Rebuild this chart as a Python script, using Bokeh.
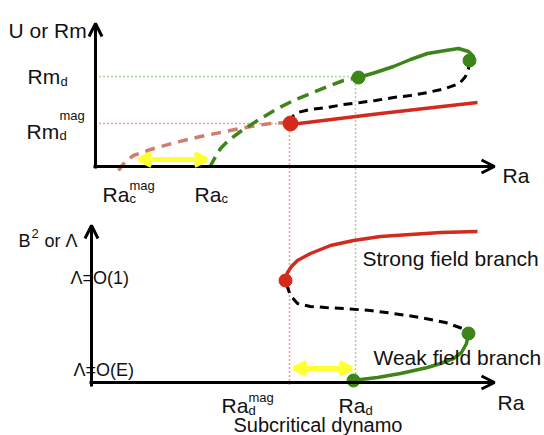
from bokeh.plotting import figure
from bokeh.models import Range1d, Arrow, OpenHead, ColumnDataSource
from bokeh.core.properties import value
from bokeh.embed import file_html
from bokeh.resources import INLINE

# ---- schematic data (screen-like units: x to the right, y downward) ----
# top panel: U or Rm vs Ra
top_mag_x = [118, 124, 133, 150, 175, 200, 225, 250, 270, 288]
top_mag_y = [170, 162, 155, 149, 142, 136, 131, 126, 123, 122]
top_hyd_dash_x = [209, 214, 220, 228, 240, 257, 277, 293, 310, 327, 343, 358]
top_hyd_dash_y = [167, 158, 148, 140, 131, 120, 108, 100, 93, 86, 80, 77]
top_hyd_solid_x = [358, 375, 393, 410, 427, 445, 458, 468, 473, 469]
top_hyd_solid_y = [77, 72, 66, 59, 53, 50, 48, 51, 56, 60]
top_unst_x = [469, 468, 465, 459, 445, 427, 410, 393, 375, 360, 343, 327, 310, 297, 292]
top_unst_y = [60, 68, 76, 83, 88, 92, 95, 97, 100, 102, 104, 107, 109, 112, 116]
top_strong_x = [290, 380, 477]
top_strong_y = [124, 113, 102]
top_dots_x = [290, 358, 469]
top_dots_y = [123, 77, 60]
top_dots_c = ["#d42a1e", "#3f8418", "#3f8418"]

# bottom panel: B^2 or Lambda vs Ra
bot_strong_x = [285, 287, 291, 297, 310, 330, 353, 380, 410, 440, 477]
bot_strong_y = [280, 272, 266, 260, 253, 245, 240, 236, 234, 232, 231]
bot_unst_x = [286, 290, 297, 310, 325, 343, 370, 393, 420, 445, 462]
bot_unst_y = [284, 295, 303, 306, 307, 308, 310, 313, 317, 322, 328]
bot_weak_x = [468, 466, 461, 453, 440, 427, 400, 377, 360, 353]
bot_weak_y = [333, 343, 352, 358, 363, 367, 373, 377, 379, 380]
bot_dots_x = [285, 468, 353]
bot_dots_y = [280, 333, 380]
bot_dots_c = ["#d42a1e", "#3f8418", "#3f8418"]

# thresholds
Ra_d_mag = 289
Ra_d = 355
Rm_d = 76
Rm_d_mag = 123
Ra_c_mag = 137
Ra_c = 208

RED = "#d42a1e"
GREEN = "#3f8418"
SALMON = "#d27c6c"
YELLOW = "#ffff33"
FONT = "Liberation Sans"

p = figure(width=544, height=435, output_backend="svg", toolbar_location=None,
           x_range=Range1d(0, 544), y_range=Range1d(435, 0), min_border=0)
p.axis.visible = False
p.grid.visible = False
p.outline_line_color = None
p.background_fill_color = "white"

# ---- axes ----
def axis_arrow(x0, y0, x1, y1):
    p.add_layout(Arrow(end=OpenHead(size=13, line_width=3, line_color="black"),
                       x_start=x0, y_start=y0, x_end=x1, y_end=y1,
                       line_width=3, line_color="black"))

axis_arrow(95, 168, 95, 23)
axis_arrow(93, 166, 494, 166)
axis_arrow(91, 386, 91, 225)
axis_arrow(89, 382, 494, 382)

# ---- dotted guides ----
p.line([95, Ra_d], [Rm_d, Rm_d], line_color="#5fa83a", line_width=1.5, line_dash="1 3")
p.line([95, Ra_d_mag], [Rm_d_mag, Rm_d_mag], line_color="#e8372e", line_width=1.5, line_dash="1 3")
p.line([Ra_d_mag, Ra_d_mag], [Rm_d_mag, 386], line_color="#e8372e", line_width=1.5, line_dash="1 3")
p.line([Ra_d, Ra_d], [Rm_d, 386], line_color="#5fa83a", line_width=1.5, line_dash="1 3")

# ---- top curves ----
p.line(top_mag_x, top_mag_y, line_color=SALMON, line_width=3.5, line_dash="10 7")
p.line(top_hyd_dash_x, top_hyd_dash_y, line_color=GREEN, line_width=3.5, line_dash="12 7")
p.line(top_unst_x, top_unst_y, line_color="black", line_width=3, line_dash="9 6")
p.line(top_hyd_solid_x, top_hyd_solid_y, line_color=GREEN, line_width=3.5)
p.line(top_strong_x, top_strong_y, line_color=RED, line_width=3.5)
p.scatter(top_dots_x, top_dots_y, size=[15, 13, 13], color=top_dots_c)

# ---- bottom curves ----
p.line(bot_unst_x, bot_unst_y, line_color="black", line_width=3, line_dash="9 6")
p.line(bot_strong_x, bot_strong_y, line_color=RED, line_width=3.5)
p.line(bot_weak_x, bot_weak_y, line_color=GREEN, line_width=3.5)
p.scatter(bot_dots_x, bot_dots_y, size=13, color=bot_dots_c)

# ---- yellow double arrows ----
def yellow_arrow(x0, x1, y):
    p.add_layout(Arrow(start=OpenHead(size=12, line_width=5, line_color=YELLOW),
                       end=OpenHead(size=12, line_width=5, line_color=YELLOW),
                       x_start=x0, y_start=y, x_end=x1, y_end=y,
                       line_width=5, line_color=YELLOW))

yellow_arrow(Ra_c_mag + 2, Ra_c - 2, 159)
yellow_arrow(Ra_d_mag + 5, Ra_d - 4, 368)

# ---- texts ----
main_text = ["U or Rm", "Rm", "Rm", "Ra", "Ra", "Ra",
             "B", "or Λ", "Λ=O(1)", "Λ=O(E)",
             "Ra", "Ra", "Ra", "Subcritical dynamo",
             "Strong field branch", "Weak field branch"]
main_x = [8, 27, 26, 102, 194, 502,
          18, 44, 70, 73,
          221, 338, 497, 233,
          362, 373]
main_y = [30, 76, 131, 194, 194, 175,
          240, 240, 277, 369,
          405, 405, 402, 424,
          258, 357]
main_size = ["21px"] * 6 + ["18px", "18px", "18px", "18px"] + ["21px"] * 3 + ["20px"] + ["21px"] * 2

small_text = ["d", "mag", "d", "mag", "c", "c", "2", "mag", "d", "d"]
small_x = [60, 59, 59, 129, 129, 221, 31, 248, 248, 365]
small_y = [81, 115, 135, 185, 198, 198, 233, 397, 410, 410]

src_main = ColumnDataSource(dict(x=main_x, y=main_y, text=main_text, size=main_size))
p.text(x="x", y="y", text="text", source=src_main, text_font=value(FONT),
       text_font_size="size", text_color="#111111", text_baseline="alphabetic",
       text_align="left")
p.text(x=small_x, y=small_y, text=small_text, text_font=value(FONT),
       text_font_size="13px", text_color="#111111", text_baseline="alphabetic",
       text_align="left")

open("out.html", "w").write(file_html(p, INLINE))
